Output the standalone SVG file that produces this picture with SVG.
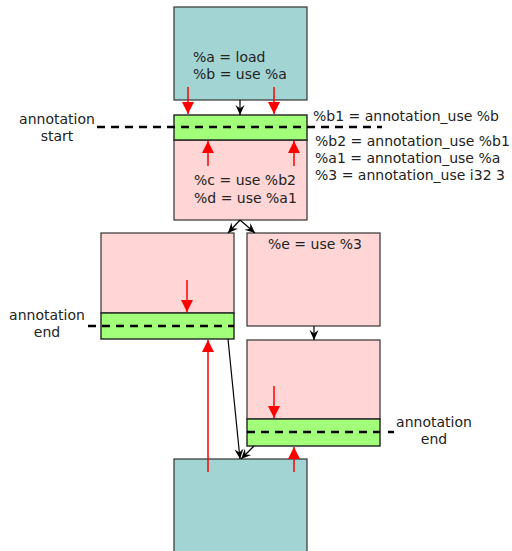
<svg xmlns="http://www.w3.org/2000/svg" width="512" height="551" viewBox="0 0 512 551">
<defs>
  <marker id="ah" viewBox="0 0 10 10" refX="10" refY="5" markerWidth="10" markerHeight="10" markerUnits="userSpaceOnUse" orient="auto">
    <path d="M0,0.5 L10,5 L0,9.5 L3.5,5 z" fill="#000"/>
  </marker>
  <marker id="rh" viewBox="0 0 10 10" refX="10" refY="5" markerWidth="14" markerHeight="12" markerUnits="userSpaceOnUse" orient="auto">
    <path d="M0,0 L10,5 L0,10 z" fill="#ff0000"/>
  </marker>
</defs>
<style>
  .blue { fill: #a2d4d4; stroke: #333; stroke-width: 1.2; }
  .pink { fill: #ffd5d5; stroke: #333; stroke-width: 1.2; }
  .green { fill: #a2ff7a; stroke: #222; stroke-width: 1.4; }
  .dash { stroke: #000; stroke-width: 2.5; stroke-dasharray: 8 6; fill: none; }
  .edge { stroke: #000; stroke-width: 1.2; fill: none; marker-end: url(#ah); }
  .use { stroke: #ff0000; stroke-width: 1.5; fill: none; marker-end: url(#rh); }
  text { font-family: "DejaVu Sans", sans-serif; font-size: 14px; fill: #222; }
  .mid { text-anchor: middle; }
</style>

<!-- entry block -->
<g id="entry">
  <rect class="blue" x="174" y="7" width="133" height="93"/>
  <text x="193" y="62">%a = load</text>
  <text x="193" y="79">%b = use %a</text>
</g>

<!-- block with annotation start -->
<g id="start-block">
  <rect class="pink" x="174" y="140" width="133" height="80"/>
  <rect class="green" x="174" y="115" width="133" height="25"/>
  <text x="194" y="185">%c = use %b2</text>
  <text x="194" y="203">%d = use %a1</text>
</g>

<g id="start-label">
  <line class="dash" x1="97" y1="127" x2="382" y2="127"/>
  <text class="mid" x="57" y="124">annotation</text>
  <text class="mid" x="57" y="141">start</text>
  <text x="313" y="121">%b1 = annotation_use %b</text>
  <text x="315" y="146">%b2 = annotation_use %b1</text>
  <text x="315" y="163">%a1 = annotation_use %a</text>
  <text x="315" y="180">%3 = annotation_use i32 3</text>
</g>

<!-- left branch ending the annotation -->
<g id="left-block">
  <rect class="pink" x="101" y="233" width="133" height="80"/>
  <rect class="green" x="101" y="313" width="133" height="26"/>
  <line class="dash" x1="88" y1="326" x2="234" y2="326"/>
  <text class="mid" x="47" y="320">annotation</text>
  <text class="mid" x="47" y="337">end</text>
</g>

<!-- right branch -->
<g id="right-block">
  <rect class="pink" x="247" y="233" width="133" height="93"/>
  <text class="mid" x="315" y="249">%e = use %3</text>
</g>

<g id="right-end-block">
  <rect class="pink" x="247" y="340" width="133" height="79"/>
  <rect class="green" x="247" y="419" width="133" height="27"/>
  <line class="dash" x1="247" y1="432" x2="380" y2="432"/>
  <line class="dash" x1="388" y1="432" x2="394" y2="432"/>
  <text class="mid" x="434" y="427">annotation</text>
  <text class="mid" x="434" y="444">end</text>
</g>

<!-- merge block -->
<g id="exit">
  <rect class="blue" x="174" y="459" width="133" height="100"/>
</g>

<!-- control flow edges -->
<g id="edges">
  <line class="edge" x1="240" y1="100" x2="240" y2="115"/>
  <line class="edge" x1="240" y1="220" x2="228" y2="233"/>
  <line class="edge" x1="240" y1="220" x2="255" y2="233"/>
  <line class="edge" x1="314" y1="326" x2="314" y2="340"/>
  <line class="edge" x1="228" y1="339" x2="240" y2="459"/>
  <line class="edge" x1="254" y1="446" x2="241" y2="459"/>
</g>

<!-- value uses -->
<g id="uses">
  <line class="use" x1="188" y1="87" x2="188" y2="114"/>
  <line class="use" x1="274" y1="87" x2="274" y2="114"/>
  <line class="use" x1="208" y1="166" x2="208" y2="141"/>
  <line class="use" x1="294" y1="166" x2="294" y2="141"/>
  <line class="use" x1="187" y1="280" x2="187" y2="312"/>
  <line class="use" x1="274" y1="386" x2="274" y2="418"/>
  <line class="use" x1="208" y1="472" x2="208" y2="340"/>
  <line class="use" x1="294" y1="472" x2="294" y2="447"/>
</g>
</svg>
